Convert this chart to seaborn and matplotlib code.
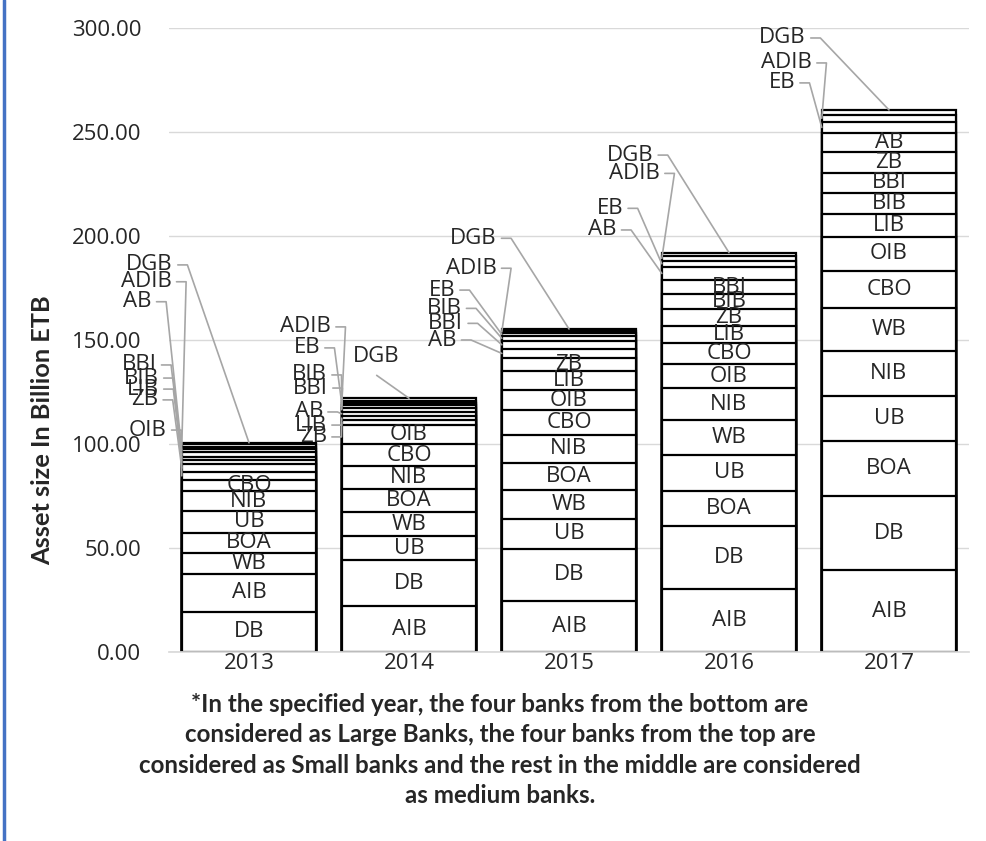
import numpy as np
import pandas as pd
import matplotlib
matplotlib.use('Agg')
import matplotlib.pyplot as plt
import seaborn as sns

# %%
# Data: asset size (billion ETB) per bank, stacked bottom -> top for each year
years = ['2013', '2014', '2015', '2016', '2017']

banks_2013 = ['DB', 'AIB', 'WB', 'BOA', 'UB', 'NIB', 'CBO', 'OIB', 'ZB', 'LIB', 'BIB', 'BBI', 'AB', 'EB', 'ADIB', 'DGB']
assets_2013 = [19.4, 18.0, 10.1, 9.9, 10.4, 9.5, 5.4, 4.0, 3.5, 2.1, 1.6, 2.1, 1.7, 1.0, 1.2, 0.7]

banks_2014 = ['AIB', 'DB', 'UB', 'WB', 'BOA', 'NIB', 'CBO', 'OIB', 'ZB', 'LIB', 'AB', 'BBI', 'BIB', 'EB', 'ADIB', 'DGB']
assets_2014 = [21.9, 22.2, 11.5, 11.7, 11.3, 10.8, 10.6, 9.1, 2.3, 2.1, 2.0, 1.9, 1.3, 1.1, 1.0, 1.2]

banks_2015 = ['AIB', 'DB', 'UB', 'WB', 'BOA', 'NIB', 'CBO', 'OIB', 'LIB', 'ZB', 'AB', 'BBI', 'BIB', 'EB', 'ADIB', 'DGB']
assets_2015 = [24.7, 24.9, 14.4, 13.9, 13.2, 13.4, 11.7, 9.6, 9.2, 6.4, 4.3, 4.0, 2.2, 1.6, 0.8, 1.0]

banks_2016 = ['AIB', 'DB', 'BOA', 'UB', 'WB', 'NIB', 'OIB', 'CBO', 'LIB', 'ZB', 'BIB', 'BBI', 'AB', 'EB', 'ADIB', 'DGB']
assets_2016 = [30.1, 30.4, 17.1, 17.2, 16.6, 15.4, 11.7, 10.2, 8.0, 8.1, 7.3, 6.7, 6.4, 2.9, 2.3, 1.6]

banks_2017 = ['AIB', 'DB', 'BOA', 'UB', 'NIB', 'WB', 'CBO', 'OIB', 'LIB', 'BIB', 'BBI', 'ZB', 'AB', 'EB', 'ADIB', 'DGB']
assets_2017 = [39.3, 35.8, 26.2, 21.9, 21.4, 20.9, 17.7, 16.5, 10.9, 9.9, 10.0, 9.9, 9.0, 5.6, 3.2, 2.4]

y_ticks = [0, 50, 100, 150, 200, 250, 300]
y_label = 'Asset size In Billion ETB'
note = ('*In the specified year, the four banks from the bottom are\n'
        'considered as Large Banks, the four banks from the top are\n'
        'considered as Small banks and the rest in the middle are considered\n'
        'as medium banks.')

# labels moved off the bar (Excel style): bank -> (x, y) in data units
outside_labels = {
    '2013': {'DGB': (-0.475, 186.1), 'ADIB': (-0.483, 178.0), 'AB': (-0.608, 168.4),
             'BBI': (-0.577, 138.0), 'BIB': (-0.563, 131.7), 'LIB': (-0.563, 126.4),
             'ZB': (-0.567, 121.2), 'OIB': (-0.514, 106.7)},
    '2014': {'ADIB': (0.513, 156.3), 'EB': (0.444, 146.2), 'BIB': (0.488, 133.2),
             'BBI': (0.494, 126.9), 'AB': (0.463, 115.4), 'LIB': (0.488, 109.1),
             'ZB': (0.488, 103.4), 'DGB': (0.798, 142.0)},
    '2015': {'DGB': (1.548, 198.9), 'ADIB': (1.548, 184.5), 'EB': (1.288, 174.0),
             'BIB': (1.329, 165.2), 'BBI': (1.339, 158.0), 'AB': (1.298, 150.0)},
    '2016': {'DGB': (2.527, 238.9), 'ADIB': (2.569, 230.1), 'EB': (2.339, 213.3),
             'AB': (2.298, 202.9)},
    '2017': {'DGB': (3.481, 295.2), 'ADIB': (3.519, 283.2), 'EB': (3.413, 273.6)},
}
centered_outside = {('2014', 'DGB')}
hidden_labels = {('2013', 'EB')}

# %%
# Build long table with cumulative tops
frames = []
for yr, banks, vals in [('2013', banks_2013, assets_2013), ('2014', banks_2014, assets_2014),
                        ('2015', banks_2015, assets_2015), ('2016', banks_2016, assets_2016),
                        ('2017', banks_2017, assets_2017)]:
    d = pd.DataFrame({'year': yr, 'bank': banks, 'asset': vals})
    d['rank'] = np.arange(1, len(d) + 1)
    d['top'] = d['asset'].cumsum()
    d['bottom'] = d['top'] - d['asset']
    frames.append(d)
df = pd.concat(frames, ignore_index=True)

# %%
sns.set_theme(style='white')
plt.rcParams['font.family'] = ['Open Sans', 'DejaVu Sans']

fig = plt.figure(figsize=(9.86, 8.41), dpi=100)
ax = fig.add_axes([169 / 986, 1 - 652 / 841, 800 / 986, 624 / 841])

bar_w = 0.84
# draw tallest cumulative bar first, then cover with shorter ones -> stacked look
for r in sorted(df['rank'].unique(), reverse=True):
    sub = df[df['rank'] == r]
    sns.barplot(data=sub, x='year', y='top', order=years, color='white', saturation=1,
                edgecolor='black', linewidth=1.6, width=bar_w, errorbar=None, ax=ax)

ax.set_xlim(-0.5, 4.5)
ax.set_ylim(0, 300)
ax.set_yticks(y_ticks)
ax.set_yticklabels([f'{v:.2f}' for v in y_ticks])
ax.yaxis.grid(True, color='#D9D9D9', lw=1)
ax.set_axisbelow(True)
for s in ['left', 'right', 'top']:
    ax.spines[s].set_visible(False)
ax.spines['bottom'].set_color('#D9D9D9')
ax.set_xlabel('')
ax.set_ylabel('')
ax.set_xticks(np.arange(-0.5, 5, 1), minor=True)
ax.tick_params(axis='x', which='major', length=0, labelsize=16, pad=1)
ax.tick_params(axis='x', which='minor', length=10, color='#D9D9D9', width=1)
ax.tick_params(axis='y', length=0, labelsize=16, pad=20)

# %%
# Data labels
lead_col = '#A6A6A6'
for i, yr in enumerate(years):
    d = df[df['year'] == yr]
    total = d['top'].max()
    outs = outside_labels[yr]
    for _, row in d.iterrows():
        b = row['bank']
        mid = row['bottom'] + row['asset'] / 2
        if (yr, b) in hidden_labels:
            continue
        if b in outs:
            lx, ly = outs[b]
            if b == 'DGB':
                tx, ty = i, total
            else:
                tx, ty = i - bar_w / 2, mid
            if (yr, b) in centered_outside:
                ax.text(lx, ly, b, ha='center', va='center', fontsize=16, clip_on=False)
                ax.plot([lx, tx], [ly - 9, ty], color=lead_col, lw=1.2, clip_on=False)
            else:
                ax.text(lx, ly, b, ha='right', va='center', fontsize=16, clip_on=False)
                ax.plot([lx + 0.03, lx + 0.09, tx], [ly, ly, ty], color=lead_col, lw=1.2,
                        clip_on=False)
        else:
            ax.text(i, mid, b, ha='center', va='center', fontsize=16)

fig.text(43 / 986, 1 - 430 / 841, y_label, rotation=90, ha='center', va='center',
         fontsize=18.3, fontweight='bold', family=['Lato', 'DejaVu Sans'])
fig.text(500 / 986, 1 - 750 / 841, note, ha='center', va='center', fontsize=17.4,
         fontweight='bold', family=['Lato', 'DejaVu Sans'], linespacing=1.4)

# blue chart-area border on the left
fig.add_artist(plt.Line2D([4 / 986, 4 / 986], [0, 1], color='#4472C4', lw=2.5))

plt.savefig('out.png', dpi=100)
plt.close()
